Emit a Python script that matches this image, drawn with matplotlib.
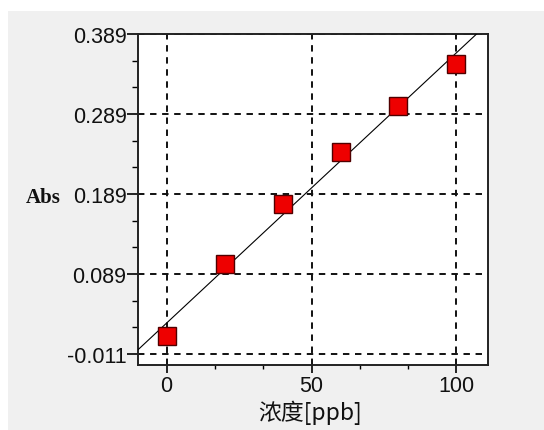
import numpy as np
import matplotlib
matplotlib.use("Agg")
import matplotlib.pyplot as plt
from matplotlib.patches import Rectangle
from matplotlib.ticker import FixedLocator

# calibration points
conc = [0, 20, 40, 60, 80, 100]
absorb = [0.011, 0.101, 0.176, 0.241, 0.299, 0.352]

y_major = [-0.011, 0.089, 0.189, 0.289, 0.389]
y_labels = ["-0.011", "0.089", "0.189", "0.289", "0.389"]
x_major = [0, 50, 100]
x_minor = [50 / 3, 100 / 3, 200 / 3, 250 / 3]

fig = plt.figure(figsize=(5.44, 4.31), dpi=100)
fig.patch.set_facecolor("white")
fig.patches.append(Rectangle((8 / 544, 0), 1, 1 - 12 / 431, transform=fig.transFigure,
                             facecolor="#f0f0f0", edgecolor="none", zorder=-10))

ax = fig.add_axes([137.7 / 544, 1 - 365.7 / 431, 350.6 / 544, 330.7 / 431])
ax.set_facecolor("white")

# regression line through the points
slope, icpt = np.polyfit(conc, absorb, 1)
xl = np.array([-10, 111])
ax.plot(xl, slope * xl + icpt, color="black", lw=0.8, zorder=3)

ax.plot(conc, absorb, ls="none", marker="s", markersize=12.3,
        markerfacecolor="#ee0000", markeredgecolor="#500000", markeredgewidth=1.0, zorder=4)

ax.set_xlim(-10, 111)
ax.set_ylim(-0.0243, 0.389)

ax.xaxis.set_major_locator(FixedLocator(x_major))
ax.xaxis.set_minor_locator(FixedLocator(x_minor))
ax.set_xticklabels([str(v) for v in x_major])

y_minor = []
for a, b in zip(y_major[:-1], y_major[1:]):
    y_minor += [a + (b - a) / 3, a + 2 * (b - a) / 3]
ax.yaxis.set_major_locator(FixedLocator(y_major))
ax.yaxis.set_minor_locator(FixedLocator(y_minor))
ax.set_yticklabels(y_labels)

ax.grid(True, which="major", color="#111111", lw=1.4, linestyle=(0, (3.3, 2.9)), zorder=1)
ax.set_axisbelow(True)

for sp in ax.spines.values():
    sp.set_linewidth(1.4)
    sp.set_color("#222222")

tick_font = {"family": ["Liberation Sans", "DejaVu Sans"], "size": 15.5}
for lab in ax.get_xticklabels() + ax.get_yticklabels():
    lab.set_fontfamily(tick_font["family"])
    lab.set_fontsize(tick_font["size"])
    lab.set_color("#111111")

ax.tick_params(axis="x", which="major", length=6, width=1.2, pad=1.5, direction="out")
ax.tick_params(axis="x", which="minor", length=3, width=1.0, direction="out")
ax.tick_params(axis="y", which="major", length=8, width=1.2, pad=0.0, direction="out")
ax.tick_params(axis="y", which="minor", length=4, width=1.0, direction="out")

fig.text(43 / 544, 1 - 198 / 431, "Abs", family=["Liberation Serif", "DejaVu Serif"],
         fontsize=15, fontweight="bold", ha="center", va="center", color="#111111")
fig.text(310 / 544, 1 - 413 / 431, "浓度[ppb]", family=["Noto Sans CJK SC", "DejaVu Sans"],
         fontsize=16.5, ha="center", va="center", color="#111111")

fig.savefig("out.png", dpi=100)
